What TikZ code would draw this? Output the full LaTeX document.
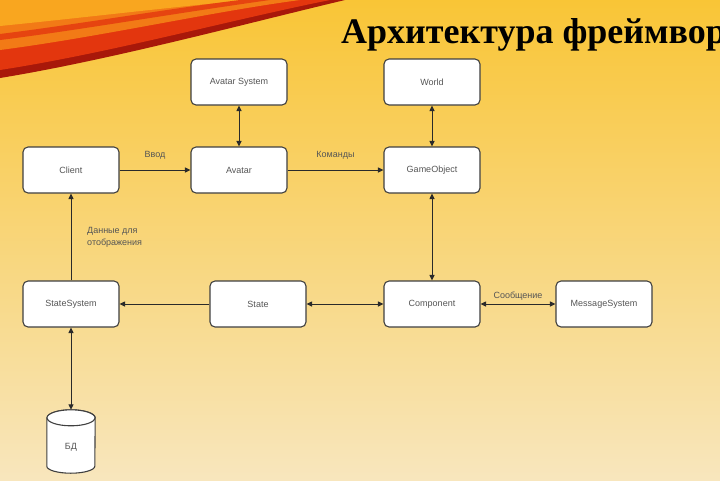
\documentclass[tikz,border=0pt]{standalone}
\usepackage{fontspec}
\setmainfont{Liberation Sans}
\newfontfamily\titlefont{Liberation Serif}
\usetikzlibrary{arrows.meta}
\definecolor{boxline}{HTML}{404040}
\definecolor{txtgray}{HTML}{555555}
\definecolor{arrowc}{HTML}{2A2A2A}
\definecolor{bgtop}{HTML}{F9C536}
\definecolor{bgmid}{HTML}{F6D98F}
\definecolor{bgbot}{HTML}{F8E6BD}
\definecolor{swdark}{HTML}{A8180A}
\definecolor{swred}{HTML}{E3360E}
\definecolor{sworange}{HTML}{F27A16}
\definecolor{swyellow}{HTML}{F9A61F}
\tikzset{
  box/.style={draw=boxline, fill=white, rounded corners=5pt, minimum width=96pt,
    minimum height=46pt, inner sep=0pt, line width=1.1pt, text=txtgray,
    font=\fontsize{9}{11}\selectfont},
  conn/.style={draw=arrowc, line width=1pt},
  onearrow/.style={conn, -{Triangle[length=5.5pt,width=5pt]}},
  twoarrow/.style={conn, {Triangle[length=5.5pt,width=5pt]}-{Triangle[length=5.5pt,width=5pt]}},
  lbl/.style={text=txtgray, font=\fontsize{9}{12}\selectfont, inner sep=0pt}
}
\begin{document}
\begin{tikzpicture}[x=1pt,y=-1pt]
\useasboundingbox (0,0) rectangle (720,480);
\begin{scope}
\clip (0,0) rectangle (720,480);
% background
\shade[top color=bgtop, middle color=bgmid, bottom color=bgbot] (0,0) rectangle (720,480);
% swoosh decoration
\fill[swdark] (0,78) .. controls (110,60) and (240,25) .. (345,0) -- (0,0) -- cycle;
\fill[swred] (0,70) .. controls (110,53) and (230,20) .. (330,0) -- (0,0) -- cycle;
\fill[sworange] (0,50) .. controls (100,37) and (210,12) .. (300,0) -- (0,0) -- cycle;
\fill[swyellow] (0,26) .. controls (90,17) and (180,6) .. (250,0) -- (0,0) -- cycle;
\fill[swred!80!sworange] (0,40) .. controls (80,30) and (170,14) .. (270,0) -- (240,0) .. controls (160,10) and (80,24) .. (0,34) -- cycle;
% title
\node[anchor=base west, inner sep=0pt, font=\titlefont\bfseries\fontsize{36}{40}\selectfont] (title) at (341,43) {Архитектура фреймвор};
\end{scope}
% boxes
\node[box] (avsys) at (239,82) {Avatar System};
\node[box] (world) at (432,82) {World};
\node[box] (client) at (71,170) {Client};
\node[box] (avatar) at (239,170) {Avatar};
\node[box] (gameobj) at (432,170) {GameObject};
\node[box] (statesys) at (71,304) {StateSystem};
\node[box] (state) at (258,304) {State};
\node[box] (component) at (432,304) {Component};
\node[box] (msgsys) at (604,304) {MessageSystem};
% database cylinder
\node[minimum width=48pt, minimum height=63pt, inner sep=0pt] (db) at (71,441.5) {};
\draw[draw=boxline, fill=white, line width=1.1pt]
  ([yshift=-8pt]db.north west) -- ([yshift=7pt]db.south west)
  arc[start angle=180, end angle=360, x radius=24pt, y radius=7pt]
  -- ([yshift=-8pt]db.north east)
  arc[start angle=0, end angle=180, x radius=24pt, y radius=8pt] -- cycle;
\draw[draw=boxline, fill=white, line width=1.1pt] ([yshift=-8pt]db.north) ellipse[x radius=24pt, y radius=8pt];
\node[text=txtgray, font=\fontsize{9}{11}\selectfont] (dbtext) at (71,447) {БД};
% connectors
\draw[onearrow] (client) -- (avatar) node[lbl, midway, above=10pt] {Ввод};
\draw[onearrow] (avatar) -- (gameobj) node[lbl, midway, above=10pt] {Команды};
\draw[twoarrow] (avsys) -- (avatar);
\draw[twoarrow] (world) -- (gameobj);
\draw[twoarrow] (gameobj) -- (component);
\draw[twoarrow] (state) -- (component);
\draw[onearrow] (state) -- (statesys);
\draw[onearrow] (statesys) -- (client);
\draw[twoarrow] (statesys) -- (db.north);
\draw[twoarrow] (component) -- (msgsys) node[lbl, midway, above=3pt] {Сообщение};
\node[lbl, anchor=west, align=left] (datalbl) at (87,237) {Данные для\\отображения};
\end{tikzpicture}
\end{document}
